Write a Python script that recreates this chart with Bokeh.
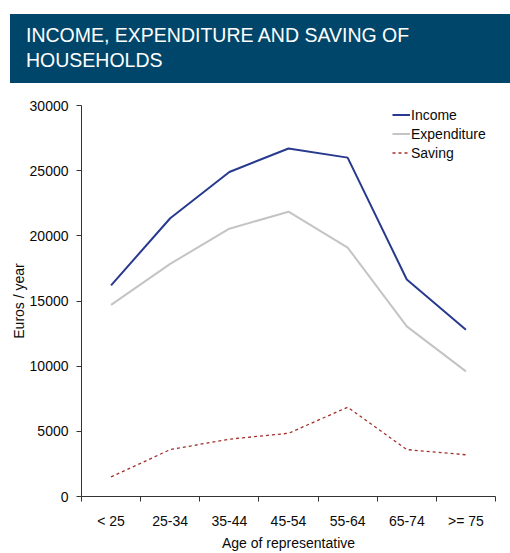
from bokeh.plotting import figure
from bokeh.models import Div, FixedTicker, Legend, LegendItem, ColumnDataSource, Range1d
from bokeh.layouts import column
from bokeh.embed import file_html
from bokeh.resources import INLINE

categories = ["< 25", "25-34", "35-44", "45-54", "55-64", "65-74", ">= 75"]
income = [16200, 21350, 24900, 26700, 26000, 16650, 12800]
expenditure = [14700, 17850, 20550, 21850, 19100, 13050, 9600]
saving = [1500, 3600, 4400, 4850, 6850, 3600, 3200]
y_ticks = [0, 5000, 10000, 15000, 20000, 25000, 30000]

FONT = "Liberation Sans"
TXT = "#0a0a0a"

xs = [i + 0.5 for i in range(len(categories))]
src = ColumnDataSource(dict(x=xs, income=income, expenditure=expenditure, saving=saving))

banner = Div(
    text=('<div style="padding:9px 0 0 16px;color:#ffffff;'
          "font-family:'Liberation Sans',Arial,sans-serif;font-size:19.5px;line-height:25px;\">"
          "INCOME, EXPENDITURE AND SAVING OF<br>HOUSEHOLDS</div>"),
    width=500, height=69, margin=(14, 0, 0, 10),
    styles={"background-color": "#00466A"},
)

p = figure(width=510, height=470, output_backend="svg", toolbar_location=None,
           x_range=Range1d(0, len(categories)), y_range=Range1d(0, 30000),
           min_border_left=81, min_border_right=15, min_border_top=22, min_border_bottom=55,
           tools="")
p.outline_line_color = None
p.xgrid.visible = False
p.ygrid.visible = False

r1 = p.line("x", "income", source=src, line_color="#283A8E", line_width=2)
r2 = p.line("x", "expenditure", source=src, line_color="#C4C4C4", line_width=2)
r3 = p.line("x", "saving", source=src, line_color="#A3302B", line_width=1.3, line_dash="3 3")

p.xaxis.ticker = FixedTicker(ticks=xs, minor_ticks=list(range(len(categories) + 1)))
p.xaxis.major_label_overrides = {x: c for x, c in zip(xs, categories)}
p.xaxis.minor_tick_out = 5
p.xaxis.minor_tick_in = 0
p.xaxis.minor_tick_line_color = "#333333"
p.xaxis.axis_label = "Age of representative"

p.yaxis.ticker = FixedTicker(ticks=y_ticks)
p.yaxis.minor_tick_line_color = None
p.yaxis.major_tick_out = 5
p.yaxis.major_tick_in = 0
p.yaxis.axis_label = "Euros / year"
p.yaxis.formatter.use_scientific = False

for ax in (p.xaxis, p.yaxis):
    ax.axis_line_color = "#333333"
    ax.major_label_text_font = FONT
    ax.major_label_text_font_size = "14px"
    ax.major_label_text_color = TXT
    ax.axis_label_text_font = FONT
    ax.axis_label_text_font_size = "14px"
    ax.axis_label_text_font_style = "normal"
    ax.axis_label_text_color = TXT

p.xaxis.major_tick_line_color = None
p.yaxis.major_tick_line_color = "#333333"

p.xaxis.major_label_standoff = 10
p.xaxis.axis_label_standoff = 3
p.yaxis.major_label_standoff = 8
p.yaxis.axis_label_standoff = 0

legend = Legend(items=[LegendItem(label="Income", renderers=[r1]),
                       LegendItem(label="Expenditure", renderers=[r2]),
                       LegendItem(label="Saving", renderers=[r3])],
                location=(311, 334), border_line_color=None, background_fill_alpha=0,
                label_text_font=FONT, label_text_font_size="14px", label_text_color=TXT,
                glyph_width=18, glyph_height=19, label_height=19, label_standoff=1,
                spacing=0, padding=0, margin=0)
p.add_layout(legend)

layout = column(banner, p, spacing=0)
open("out.html", "w").write(file_html(layout, INLINE))
